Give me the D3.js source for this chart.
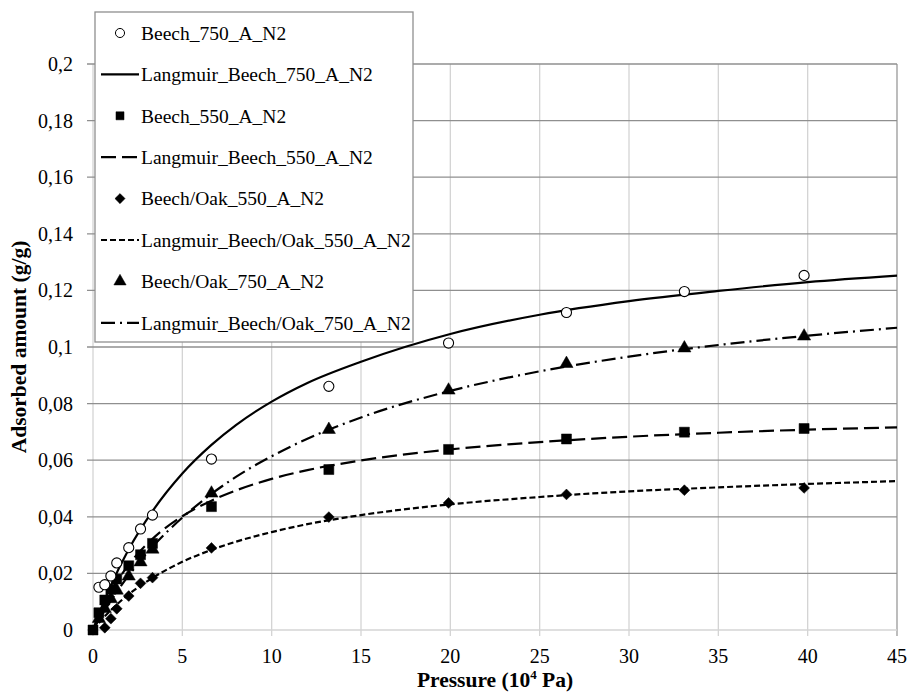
<!DOCTYPE html>
<html>
<head>
<meta charset="utf-8">
<script src="https://cdn.jsdelivr.net/npm/d3@7"></script>
<style>
  body { margin: 0; background: #fff; }
  svg text { font-family: "Liberation Serif", "Times New Roman", serif; fill: #000; }
</style>
</head>
<body>
<div id="chart"></div>
<script>
// measured points (pressure in 10^4 Pa, adsorbed amount in g/g)
var pBeech750 = [0.33, 0.66, 1, 1.33, 2, 2.66, 3.33, 6.63, 13.2, 19.9, 26.5, 33.1, 39.8];
var qBeech750 = [0.0151, 0.016, 0.0191, 0.0237, 0.0291, 0.0357, 0.0406, 0.0604, 0.0861, 0.1014, 0.1122, 0.1196, 0.1253];

var pBeech550 = [0, 0.33, 0.66, 1, 1.33, 2, 2.66, 3.33, 6.63, 13.2, 19.9, 26.5, 33.1, 39.8];
var qBeech550 = [0, 0.0061, 0.0106, 0.0144, 0.018, 0.0227, 0.0266, 0.0306, 0.0436, 0.0567, 0.0638, 0.0675, 0.0699, 0.0712];

var pOak550 = [0.66, 1, 1.33, 2, 2.66, 3.33, 6.63, 13.2, 19.9, 26.5, 33.1, 39.8];
var qOak550 = [0.0008, 0.004, 0.0075, 0.012, 0.0165, 0.0185, 0.029, 0.0399, 0.0449, 0.0479, 0.0494, 0.0502];

var pOak750 = [0.33, 0.66, 1, 1.33, 2, 2.66, 3.33, 6.63, 13.2, 19.9, 26.5, 33.1, 39.8];
var qOak750 = [0.004, 0.0075, 0.011, 0.014, 0.019, 0.024, 0.0285, 0.0483, 0.0708, 0.0847, 0.0941, 0.0996, 0.1038];

// fitted curves
var pFit = [0, 0.5, 1, 2, 3.33, 5, 6.63, 8, 10, 12, 15, 20, 25, 30, 35, 40, 45];
var fitBeech750 = [0, 0.0083, 0.0157, 0.0285, 0.042, 0.0553, 0.0654, 0.0724, 0.0807, 0.0873, 0.0948, 0.1046, 0.1114, 0.1162, 0.1198, 0.1229, 0.1252];
var fitBeech550 = [0, 0.0074, 0.0135, 0.0231, 0.0322, 0.0402, 0.0457, 0.0493, 0.0534, 0.0565, 0.0599, 0.0638, 0.0664, 0.0683, 0.0697, 0.0708, 0.0716];
var fitOak550 = [0, 0.0037, 0.007, 0.0126, 0.0184, 0.0241, 0.0283, 0.0312, 0.0346, 0.0374, 0.0406, 0.0444, 0.047, 0.049, 0.0504, 0.0516, 0.0526];
var fitOak750 = [0, 0.0054, 0.0104, 0.0193, 0.0294, 0.0397, 0.0481, 0.0541, 0.0614, 0.0676, 0.0751, 0.0845, 0.0914, 0.0966, 0.1007, 0.104, 0.1068];

var xTicks = [0, 5, 10, 15, 20, 25, 30, 35, 40, 45];
var yTicks = [0, 0.02, 0.04, 0.06, 0.08, 0.1, 0.12, 0.14, 0.16, 0.18, 0.2];

var width = 911, height = 693;
var plotLeft = 93, plotRight = 897, plotTop = 64, plotBottom = 630;

var svg = d3.select("#chart").append("svg")
    .attr("width", width)
    .attr("height", height);

var x = d3.scaleLinear().domain([0, 45]).range([plotLeft, plotRight]);
var y = d3.scaleLinear().domain([0, 0.2]).range([plotBottom, plotTop]);

// grid
svg.append("g").selectAll("line").data(xTicks).join("line")
    .attr("x1", d => x(d)).attr("x2", d => x(d))
    .attr("y1", plotTop).attr("y2", plotBottom + 6)
    .attr("stroke", d => d === 45 ? "#999" : "#d4d4d4")
    .attr("stroke-width", 1.3);

svg.append("g").selectAll("line").data(yTicks).join("line")
    .attr("x1", plotLeft - 6).attr("x2", plotRight)
    .attr("y1", d => y(d)).attr("y2", d => y(d))
    .attr("stroke", d => d === 0 ? "#d4d4d4" : "#8f8f8f")
    .attr("stroke-width", 1.3);

// tick labels
var fmt = d => String(d).replace(".", ",");
svg.append("g").selectAll("text").data(yTicks).join("text")
    .attr("x", 73).attr("y", d => y(d)).attr("dy", "0.35em")
    .attr("text-anchor", "end").attr("font-size", 20)
    .text(fmt);

svg.append("g").selectAll("text").data(xTicks).join("text")
    .attr("x", d => x(d)).attr("y", 663)
    .attr("text-anchor", "middle").attr("font-size", 20)
    .text(fmt);

// axis titles
var xt = svg.append("text")
    .attr("x", (plotLeft + plotRight) / 2).attr("y", 687)
    .attr("text-anchor", "middle").attr("font-size", 21.5).attr("font-weight", "bold");
xt.append("tspan").text("Pressure (10");
xt.append("tspan").attr("font-size", 13).attr("dy", -8).text("4");
xt.append("tspan").attr("dy", 8).text(" Pa)");

svg.append("text")
    .attr("transform", "translate(26," + y(0.1) + ")rotate(-90)")
    .attr("text-anchor", "middle").attr("font-size", 21.5).attr("font-weight", "bold")
    .text("Adsorbed amount (g/g)");

// curves
var line = d3.line().x(d => x(d[0])).y(d => y(d[1])).curve(d3.curveMonotoneX);

var fits = [
    {vals: fitBeech750, dash: null},
    {vals: fitBeech550, dash: "15,6"},
    {vals: fitOak550, dash: "6,3"},
    {vals: fitOak750, dash: "14,5,2,5"}
];
fits.forEach(function (f) {
    svg.append("path")
        .datum(pFit.map((p, i) => [p, f.vals[i]]))
        .attr("d", line)
        .attr("fill", "none")
        .attr("stroke", "#000")
        .attr("stroke-width", 2.2)
        .attr("stroke-dasharray", f.dash);
});

// markers
var symType = {
    circle: d3.symbolCircle,
    square: d3.symbolSquare,
    diamond: d3.symbolDiamond2,
    triangle: d3.symbolTriangle
};
var symSize = {circle: 80, square: 100, diamond: 75, triangle: 75};

function drawPoints(ps, qs, kind) {
    svg.append("g").selectAll("path").data(ps).join("path")
        .attr("transform", (p, i) => "translate(" + x(p) + "," + y(qs[i]) + ")")
        .attr("d", d3.symbol().type(symType[kind]).size(symSize[kind])())
        .attr("fill", kind === "circle" ? "#fff" : "#000")
        .attr("stroke", "#000")
        .attr("stroke-width", kind === "circle" ? 1.1 : 0.5);
}
drawPoints(pOak550, qOak550, "diamond");
drawPoints(pBeech550, qBeech550, "square");
drawPoints(pOak750, qOak750, "triangle");
drawPoints(pBeech750, qBeech750, "circle");

// legend
var legendItems = [
    {label: "Beech_750_A_N2", kind: "circle"},
    {label: "Langmuir_Beech_750_A_N2", dash: ""},
    {label: "Beech_550_A_N2", kind: "square"},
    {label: "Langmuir_Beech_550_A_N2", dash: "15,6"},
    {label: "Beech/Oak_550_A_N2", kind: "diamond"},
    {label: "Langmuir_Beech/Oak_550_A_N2", dash: "6,3"},
    {label: "Beech/Oak_750_A_N2", kind: "triangle"},
    {label: "Langmuir_Beech/Oak_750_A_N2", dash: "14,5,2,5"}
];

var lg = svg.append("g");
lg.append("rect")
    .attr("x", 95).attr("y", 12).attr("width", 318).attr("height", 330)
    .attr("fill", "#fff").attr("stroke", "#8f8f8f").attr("stroke-width", 1.3);

legendItems.forEach(function (d, i) {
    var yy = 33 + i * 41.4;
    if (d.kind) {
        lg.append("path")
            .attr("transform", "translate(120," + yy + ")")
            .attr("d", d3.symbol().type(symType[d.kind]).size(65)())
            .attr("fill", d.kind === "circle" ? "#fff" : "#000")
            .attr("stroke", "#000")
            .attr("stroke-width", d.kind === "circle" ? 1 : 0.5);
    } else {
        lg.append("line")
            .attr("x1", 101).attr("x2", 139)
            .attr("y1", yy).attr("y2", yy)
            .attr("stroke", "#000").attr("stroke-width", 2.2)
            .attr("stroke-dasharray", d.dash || null);
    }
    lg.append("text")
        .attr("x", 141).attr("y", yy).attr("dy", "0.35em")
        .attr("font-size", 19.5)
        .text(d.label);
});
</script>
</body>
</html>
